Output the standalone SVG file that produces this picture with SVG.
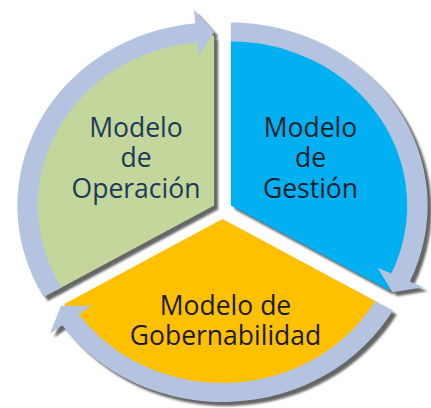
<svg xmlns="http://www.w3.org/2000/svg" xmlns:xlink="http://www.w3.org/1999/xlink" width="431" height="408" viewBox="0 0 431 408">
<style>
.lbl{font-family:"Open Sans","Noto Sans","Liberation Sans",sans-serif;font-size:26.5px;text-anchor:middle}
.ring{fill:#b4c4e0}
</style>
<defs>
<filter id="blur" x="-10%" y="-10%" width="120%" height="120%"><feGaussianBlur stdDeviation="0.8"/></filter>
<path id="sec" d="M0 0 L-147.22 85 A170 170 0 0 1 0 -170 Z"/>
<path id="arr" d="M-158.48 91.5 A183 183 0 0 1 -17.54 -182.16 L-18.88 -196.09 L0 -173.5 L-14.38 -149.31 L-15.72 -163.25 A164 164 0 0 0 -142.03 82 Z"/>
</defs>
<rect width="431" height="408" fill="#ffffff"/>
<g id="shadows" transform="translate(4 4)" fill="#666666" filter="url(#blur)">
<g transform="translate(222.5 210) scale(1.075 1) translate(-7.79 -4.5)"><use xlink:href="#sec"/><use xlink:href="#arr"/></g>
<g transform="translate(222.5 210) scale(1.075 1) rotate(120) translate(-7.79 -4.5)"><use xlink:href="#sec"/><use xlink:href="#arr"/></g>
<g transform="translate(222.5 210) scale(1.075 1) rotate(240) translate(-7.79 -4.5)"><use xlink:href="#sec"/><use xlink:href="#arr"/></g>
</g>
<g id="node-operacion">
<use xlink:href="#sec" fill="#c3d69b" transform="translate(222.5 210) scale(1.075 1) translate(-7.79 -4.5)"/>
<text class="lbl" fill="#1c3a57"><tspan x="136" y="136.5">Modelo</tspan><tspan x="136" y="167">de</tspan><tspan x="136" y="197.5">Operación</tspan></text>
</g>
<g id="node-gestion">
<use xlink:href="#sec" fill="#00b0f0" transform="translate(222.5 210) scale(1.075 1) rotate(120) translate(-7.79 -4.5)"/>
<text class="lbl" fill="#0d1f2d"><tspan x="310.5" y="136.5">Modelo</tspan><tspan x="310.5" y="167">de</tspan><tspan x="310.5" y="197.5">Gestión</tspan></text>
</g>
<g id="node-gobernabilidad">
<use xlink:href="#sec" fill="#ffc000" transform="translate(222.5 210) scale(1.075 1) rotate(240) translate(-7.79 -4.5)"/>
<text class="lbl" fill="#1a1a1a"><tspan x="225.5" y="315">Modelo de</tspan><tspan x="225.5" y="345">Gobernabilidad</tspan></text>
</g>
<g id="connectors" class="ring">
<use xlink:href="#arr" transform="translate(222.5 210) scale(1.075 1) translate(-7.79 -4.5)"/>
<use xlink:href="#arr" transform="translate(222.5 210) scale(1.075 1) rotate(120) translate(-7.79 -4.5)"/>
<use xlink:href="#arr" transform="translate(222.5 210) scale(1.075 1) rotate(240) translate(-7.79 -4.5)"/>
</g>
</svg>
